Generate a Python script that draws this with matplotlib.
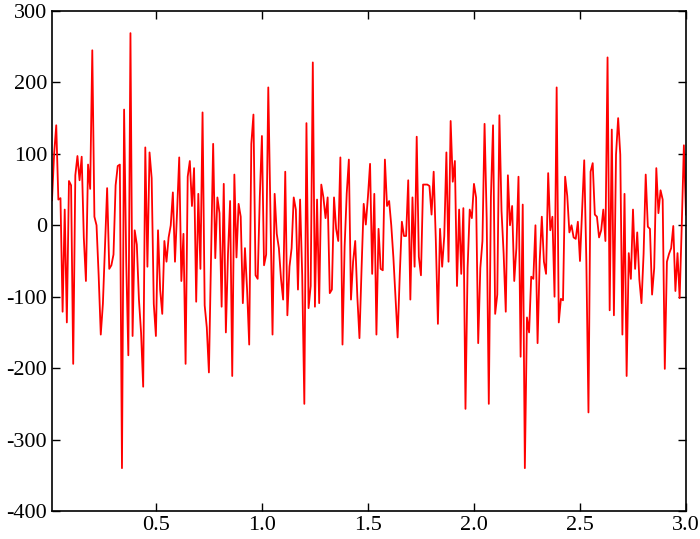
import numpy as np
import matplotlib
matplotlib.use("Agg")
import matplotlib.pyplot as plt

plt.rcParams['font.family'] = ['Liberation Serif', 'DejaVu Serif']
plt.rcParams['axes.unicode_minus'] = False

# signal values, one per 0.01 step
signal = [
    35, 100, 140, 36,
    38, -121, 22, -136, 62, 56, -194, 70, 97, 63, 96, -17, -78, 85, 51, 245, 12, 0, -70, -153, -110, -30, 52, -61, -56,
    -41, 56, 83, 85, -340, 162, -50, -182, 269, -155, -7, -27, -104, -150, -226, 109, -58, 102, 66, -110, -155, -7, -90, -124, -22,
    -51, -17, 0, 46, -51, 20, 95, -78, -12, -194, 68, 90, 27, 80, -107, 44, -61, 158, -112, -143, -206, -46, 114,
    -46, 39, 17, -114, 58, -150, -40, 34, -211, 71, -45, 30, 12, -109, -32, -90, -167, 114, 155, -70, -75, 40, 125, -56,
    -41, 193, 20, -153, 44, -12, -32, -75, -104, 75, -126, -58, -32, 39, 22, -90, 36, -70, -250, 143, -116, -85, 228, -114, 36,
    -109, 57, 39, 10, 39, -95, -90, 39, -5, -22, 95, -167, -30, 45, 92, -104, -51, -22, -100, -158, -60, 30, 1, 40,
    86, -68, 44, -153, -5, -61, -63, 92, 27, 34, 0, -45, -100, -157, -70, 5, -15, -15, 63, -104, 39, -58, 124, -44, -70,
    57, 57, 57, 55, 15, 75, -20, -138, -5, -58, -15, 102, -51, 146, 61, 90, -85, 22, -68, 24, -257, -60, 22, 10, 58,
    39, -165, -60, -22, 142, 10, -250, 40, 140, -124, -97, 154, 20, -40, -121, 70, 0, 27, -78, -32, 68, -184, 29, -340, -129,
    -150, -72, -75, 0, -165, -50, 12, -51, -68, 73, -7, 12, -100, 193, -136, -103, -105, 68, 41, -10, 0, -17, -19, 5,
    -50, 20, 91, -50, -262, 75, 87, 15, 12, -17, -7, 22, -22, 235, -119, 134, -126, 99, 150, 99, -153, 44, -211, -39,
    -75, 22, -61, -10, -76, -109, -40, 71, -2, -5, -97, -60, 80, 17, 49, 36, -201, -51, -40, -32, -1, -92, -39, -102, 0, 112, 15,
]
t = np.arange(1, len(signal) + 1) * 0.01

fig = plt.figure(figsize=(7.0, 5.39), dpi=100)
ax = fig.add_axes([52 / 700, 28 / 539, 634 / 700, 500 / 539])
ax.plot(t, signal, color='red', linewidth=1.3)

ax.set_xlim(0.01, 3.0)
ax.set_ylim(-400, 300)
ax.set_xticks([0.5, 1.0, 1.5, 2.0, 2.5, 3.0])
ax.set_yticks(range(-400, 301, 100))
ax.tick_params(direction='in', top=True, right=True, length=6, width=1, labelsize=16)
for s in ax.spines.values():
    s.set_linewidth(1.2)

fig.savefig("out.png", dpi=100)
